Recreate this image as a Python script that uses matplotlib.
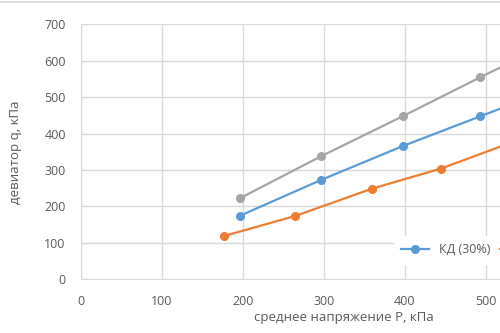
import matplotlib.pyplot as plt
from matplotlib.lines import Line2D

### Data
p_30 = [196, 297, 398, 493, 590]
q_30 = [174, 273, 366, 447, 530]

p_20 = [177, 265, 360, 445, 535]
q_20 = [119, 174, 249, 304, 378]

p_40 = [196, 297, 398, 493, 590]
q_40 = [222, 338, 448, 554, 660]

labels = ['КД (30%)', 'КД (20%)', 'КД (40%)']

### Style
plt.rcParams['font.family'] = ['Open Sans', 'DejaVu Sans']
txt_col = '#595959'
grid_col = '#D9D9D9'

fig = plt.figure(figsize=(5, 3.33), dpi=100)
ax = fig.add_axes([0.162, 0.1613, 1.052, 0.7658])

l30, = ax.plot(p_30, q_30, color='#5B9BD5', lw=1.6, marker='o', ms=5.5, label=labels[0])
l20, = ax.plot(p_20, q_20, color='#ED7D31', lw=1.6, marker='o', ms=5.5, label=labels[1])
l40, = ax.plot(p_40, q_40, color='#A5A5A5', lw=1.6, marker='o', ms=5.5, label=labels[2])

ax.set_xlim(0, 650)
ax.set_ylim(0, 700)
ax.set_xticks(range(0, 700, 100))
ax.set_yticks(range(0, 800, 100))
ax.grid(True, color=grid_col, lw=1)
ax.set_axisbelow(True)
for s in ['top', 'right', 'left']:
  ax.spines[s].set_visible(False)
ax.spines['bottom'].set_color(grid_col)
ax.tick_params(length=0, labelsize=9, labelcolor=txt_col, pad=11)

ax.set_xlabel('среднее напряжение P, кПа', fontsize=9.5, color=txt_col)
ax.xaxis.set_label_coords((344 - 81) / 526., -0.125)
ax.set_ylabel('девиатор q, кПа', fontsize=9.5, color=txt_col)
ax.yaxis.set_label_coords((22 - 81) / 526., 0.5)

leg = fig.legend(handles=[l30, l20, l40], ncol=3, loc='center left',
                 bbox_to_anchor=(0.775, 0.25), frameon=True, fontsize=9,
                 handlelength=2.2, borderpad=0.6, columnspacing=0.8,
                 labelcolor=txt_col)
leg.get_frame().set_facecolor('white')
leg.get_frame().set_edgecolor('white')
leg.get_frame().set_alpha(1)

# chart border on top
fig.add_artist(Line2D([0, 1], [0.994, 0.994], color=grid_col, lw=1.2))

plt.savefig('out.png', dpi=100)
